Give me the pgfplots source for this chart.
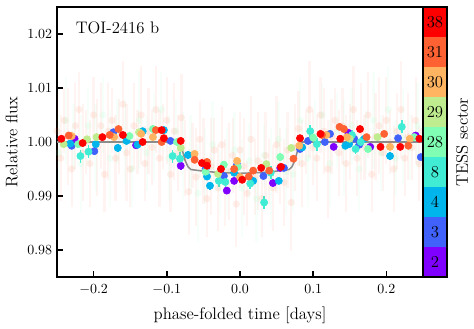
\documentclass[border=0pt]{standalone}
\usepackage{pgfplots}
\pgfplotsset{compat=1.18}

\definecolor{s2}{RGB}{128,0,255}
\definecolor{s3}{RGB}{64,98,250}
\definecolor{s4}{RGB}{0,180,236}
\definecolor{s8}{RGB}{64,236,212}
\definecolor{s28}{RGB}{128,255,180}
\definecolor{s29}{RGB}{191,236,142}
\definecolor{s30}{RGB}{255,180,98}
\definecolor{s31}{RGB}{255,98,50}
\definecolor{s38}{RGB}{255,0,0}

% faint unbinned points (sectors 31 + 28 shown as haze)
\pgfplotstableread{
x y e
-0.250 1.002 0.007
-0.245 0.997 0.008
-0.240 1.004 0.006
-0.235 1.001 0.009
-0.230 0.995 0.007
-0.225 1.003 0.008
-0.220 1.006 0.007
-0.215 0.998 0.009
-0.210 1.000 0.006
-0.205 0.996 0.008
-0.200 1.005 0.007
-0.195 0.999 0.009
-0.190 1.003 0.008
-0.185 0.994 0.007
-0.180 1.002 0.009
-0.175 1.004 0.006
-0.170 0.997 0.008
-0.165 1.001 0.007
-0.160 1.007 0.008
-0.155 0.998 0.009
-0.150 0.995 0.007
-0.145 1.003 0.008
-0.140 1.000 0.006
-0.135 1.005 0.009
-0.130 0.996 0.007
-0.125 1.002 0.008
-0.120 0.999 0.007
-0.115 1.006 0.008
-0.110 0.997 0.009
-0.105 1.001 0.006
-0.100 1.004 0.008
-0.095 0.994 0.007
-0.090 1.002 0.009
-0.085 0.998 0.007
-0.080 1.0045 0.008
-0.075 0.997 0.007
-0.070 0.9908 0.008
-0.065 0.9975 0.006
-0.060 0.9935 0.009
-0.055 1.0005 0.007
-0.050 0.9965 0.008
-0.045 0.9895 0.007
-0.040 0.9955 0.009
-0.035 0.9985 0.006
-0.030 0.9915 0.008
-0.025 0.9995 0.007
-0.020 0.9925 0.008
-0.015 0.9945 0.009
-0.010 0.9975 0.007
-0.005 0.9885 0.008
0.000 0.9985 0.007
0.005 0.9955 0.009
0.010 0.9905 0.006
0.015 1.0005 0.008
0.020 0.9935 0.007
0.025 0.9965 0.009
0.030 0.9895 0.007
0.035 0.9975 0.008
0.040 0.9945 0.006
0.045 0.9915 0.008
0.050 0.9995 0.009
0.055 0.9955 0.007
0.060 0.9925 0.008
0.065 0.9985 0.007
0.070 0.9888 0.009
0.075 0.999 0.008
0.080 1.0025 0.007
0.085 0.996 0.008
0.090 1.000 0.006
0.095 1.006 0.009
0.100 0.999 0.007
0.105 0.997 0.008
0.110 1.005 0.007
0.115 1.002 0.008
0.120 0.995 0.009
0.125 1.001 0.007
0.130 1.004 0.006
0.135 0.998 0.008
0.140 1.003 0.007
0.145 0.996 0.009
0.150 1.000 0.007
0.155 1.006 0.008
0.160 0.997 0.007
0.165 1.002 0.009
0.170 0.999 0.006
0.175 1.005 0.008
0.180 0.994 0.007
0.185 1.001 0.008
0.190 1.003 0.009
0.195 0.998 0.007
0.200 1.004 0.008
0.205 1.000 0.006
0.210 0.995 0.008
0.215 1.002 0.007
0.220 1.006 0.009
0.225 0.997 0.007
0.230 1.001 0.008
0.235 0.999 0.006
0.240 1.004 0.008
0.245 0.996 0.007
0.250 1.002 0.008
}\faintred

\pgfplotstableread{
x y e
-0.2475 0.998 0.007
-0.2375 1.004 0.008
-0.2275 1.001 0.006
-0.2175 0.996 0.009
-0.2075 1.003 0.007
-0.1975 0.999 0.008
-0.1875 1.005 0.007
-0.1775 0.997 0.009
-0.1675 1.002 0.006
-0.1575 1.000 0.008
-0.1475 0.995 0.007
-0.1375 1.004 0.009
-0.1275 0.998 0.007
-0.1175 1.001 0.008
-0.1075 1.006 0.007
-0.0975 0.997 0.008
-0.0875 1.002 0.006
-0.0775 0.9975 0.008
-0.0675 0.998 0.007
-0.0575 0.9905 0.009
-0.0475 0.9955 0.007
-0.0375 0.9995 0.008
-0.0275 0.9925 0.006
-0.0175 0.9945 0.008
-0.0075 0.9985 0.007
0.0025 0.9915 0.009
0.0125 0.9965 0.007
0.0225 0.9895 0.008
0.0325 0.9975 0.006
0.0425 0.9935 0.009
0.0525 1.0005 0.007
0.0625 0.9945 0.008
0.0725 0.9940 0.007
0.0825 1.004 0.008
0.0925 0.997 0.009
0.1025 1.001 0.007
0.1125 1.005 0.006
0.1225 0.996 0.008
0.1325 1.002 0.007
0.1425 0.999 0.009
0.1525 1.003 0.007
0.1625 0.995 0.008
0.1725 1.000 0.006
0.1825 1.004 0.009
0.1925 0.998 0.007
0.2025 1.006 0.008
0.2125 0.997 0.007
0.2225 1.001 0.009
0.2325 0.999 0.006
0.2425 1.003 0.008
}\faintgreen

\pgfplotstableread{
x y
-0.250 1.0000
-0.083 1.0000
-0.079 0.9986
-0.075 0.9966
-0.071 0.9954
-0.067 0.9949
-0.050 0.9946
-0.030 0.99435
0.000 0.9942
0.030 0.99435
0.050 0.9946
0.067 0.9949
0.071 0.9954
0.075 0.9966
0.079 0.9986
0.083 1.0000
0.250 1.0000
}\model

\pgfplotsset{
  sec/.style={only marks, mark=*, mark size=2.6pt, color=#1,
    error bars/.cd, y dir=both, y explicit, error mark=none,
    error bar style={line width=1.2pt}},
  faint/.style={only marks, mark=*, mark size=2.6pt, color=#1,
    mark options={opacity=0.10, draw opacity=0},
    error bars/.cd, y dir=both, y explicit, error mark=none,
    error bar style={line width=1.6pt, opacity=0.07}},
}

\begin{document}
\begin{tikzpicture}
\begin{axis}[
  name=ax, scale only axis, width=262.5pt, height=193.7pt,
  xmin=-0.25, xmax=0.25, ymin=0.975, ymax=1.025,
  xtick={-0.2,-0.1,0,0.1,0.2}, ytick={0.98,0.99,1.00,1.01,1.02},
  xticklabel style={yshift=-1.5pt, /pgf/number format/.cd, fixed, fixed zerofill, precision=1},
  yticklabel style={/pgf/number format/.cd, fixed, fixed zerofill, precision=2},
  tick align=inside, tick pos=left, major tick length=4.5pt,
  every tick/.style={black, line width=1.1pt},
  axis line style={line width=1.4pt},
  xlabel={phase-folded time [days]}, ylabel={Relative flux},
  label style={font=\large},
  xlabel style={yshift=-2.5pt},
  clip=true,
]
\addplot[faint=s31] table[x=x, y=y, y error=e] {\faintred};
\addplot[faint=s28] table[x=x, y=y, y error=e] {\faintgreen};
\addplot[gray!90, line width=1.1pt] table[x=x, y=y] {\model};

\addplot[sec=s2] table[x=x, y=y, y error=e, row sep=\\] {
x y e \\
-0.226 1.0006 0.0006 \\ -0.142 0.9994 0.0006 \\ -0.081 0.9956 0.0007 \\
-0.018 0.9910 0.0007 \\ -0.008 0.9928 0.0006 \\ 0.045 0.9924 0.0006 \\
0.055 0.9952 0.0006 \\ 0.148 1.0017 0.0006 \\ 0.178 0.9991 0.0006 \\
0.240 1.0012 0.0006 \\ 0.128 0.9991 0.0006 \\
};
\addplot[sec=s3] table[x=x, y=y, y error=e, row sep=\\] {
x y e \\
-0.230 0.9993 0.0006 \\ -0.199 0.9983 0.0007 \\ -0.173 1.0018 0.0006 \\
-0.095 1.0002 0.0006 \\ -0.047 0.9950 0.0006 \\ -0.022 0.9937 0.0006 \\
0.032 0.9937 0.0006 \\ 0.060 0.9952 0.0006 \\ 0.082 0.9987 0.0006 \\
0.093 1.0002 0.0006 \\ 0.116 1.0000 0.0006 \\ 0.123 1.0015 0.0006 \\
0.156 1.0006 0.0006 \\ 0.163 0.9995 0.0006 \\ 0.216 1.0007 0.0006 \\
0.247 0.9972 0.0006 \\ -0.004 0.9958 0.0006 \\
};
\addplot[sec=s4] table[x=x, y=y, y error=e, row sep=\\] {
x y e \\
-0.232 0.9997 0.0007 \\ -0.197 0.9996 0.0006 \\ -0.167 0.9989 0.0007 \\
-0.155 1.0002 0.0006 \\ -0.133 1.0020 0.0006 \\ -0.104 1.0022 0.0006 \\
-0.071 0.9976 0.0007 \\ -0.045 0.9936 0.0006 \\ -0.041 0.9919 0.0007 \\
-0.008 0.9943 0.0006 \\ 0.018 0.9928 0.0006 \\ 0.053 0.9928 0.0006 \\
0.085 0.9990 0.0006 \\ 0.144 0.9993 0.0006 \\ 0.149 0.9996 0.0006 \\
0.170 1.0006 0.0006 \\ 0.205 0.9974 0.0007 \\ -0.140 0.9995 0.0006 \\
};
\addplot[sec=s8] table[x=x, y=y, y error=e, row sep=\\] {
x y e \\
-0.218 0.9974 0.0012 \\ -0.207 0.9982 0.0012 \\ -0.092 0.9974 0.0012 \\
-0.082 0.9969 0.0012 \\ -0.029 0.9928 0.0012 \\ -0.020 0.9926 0.0012 \\
0.014 0.9923 0.0010 \\ 0.033 0.9888 0.0012 \\ 0.042 0.9943 0.0012 \\
0.096 1.0020 0.0012 \\ 0.105 0.9996 0.0012 \\ 0.153 1.0013 0.0010 \\
0.158 0.9987 0.0010 \\ 0.221 1.0028 0.0012 \\ 0.165 1.0000 0.0010 \\
};
\addplot[sec=s28] table[x=x, y=y, y error=e, row sep=\\] {
x y e \\
-0.221 0.9996 0.0007 \\ -0.151 1.0011 0.0007 \\ -0.119 1.0024 0.0007 \\
-0.086 1.0000 0.0007 \\ -0.047 0.9945 0.0007 \\ -0.022 0.9958 0.0007 \\
0.055 0.9972 0.0007 \\ 0.175 0.9987 0.0007 \\ 0.238 1.0009 0.0007 \\
-0.003 0.9954 0.0007 \\ 0.100 1.0008 0.0007 \\
};
\addplot[sec=s29] table[x=x, y=y, y error=e, row sep=\\] {
x y e \\
-0.241 0.9996 0.0006 \\ -0.196 1.0009 0.0006 \\ -0.081 0.9989 0.0006 \\
-0.030 0.9941 0.0006 \\ 0.036 0.9959 0.0006 \\ 0.188 1.0009 0.0006 \\
-0.138 1.0018 0.0006 \\ 0.070 0.9989 0.0006 \\ -0.209 1.0005 0.0006 \\
0.150 1.0006 0.0006 \\
};
\addplot[sec=s30] table[x=x, y=y, y error=e, row sep=\\] {
x y e \\
-0.230 1.0011 0.0006 \\ -0.172 1.0009 0.0006 \\ -0.119 1.0009 0.0006 \\
-0.062 0.9978 0.0006 \\ -0.004 0.9965 0.0006 \\ 0.081 0.9993 0.0006 \\
0.146 1.0009 0.0006 \\ 0.205 0.9991 0.0006 \\ 0.232 1.0006 0.0006 \\
0.118 1.0013 0.0006 \\ -0.135 1.0015 0.0006 \\ 0.000 0.9935 0.0006 \\
};
\addplot[sec=s31] table[x=x, y=y, y error=e, row sep=\\] {
x y e \\
-0.234 1.0012 0.0006 \\ -0.166 1.0024 0.0006 \\ -0.178 1.0013 0.0006 \\
-0.115 1.0022 0.0006 \\ -0.107 1.0000 0.0006 \\ -0.045 0.9963 0.0006 \\
-0.062 0.9967 0.0006 \\ 0.012 0.9936 0.0006 \\ 0.018 0.9947 0.0006 \\
0.073 0.9969 0.0006 \\ 0.136 1.0028 0.0006 \\ 0.142 1.0024 0.0006 \\
0.173 1.0009 0.0006 \\ 0.197 1.0015 0.0006 \\ 0.230 0.9993 0.0006 \\
0.112 1.0013 0.0006 \\ -0.008 0.9950 0.0006 \\ 0.040 0.9947 0.0006 \\
};
\addplot[sec=s38] table[x=x, y=y, y error=e, row sep=\\] {
x y e \\
-0.244 1.0006 0.0006 \\ -0.215 0.9998 0.0006 \\ -0.188 1.0009 0.0006 \\
-0.160 1.0013 0.0006 \\ -0.133 1.0000 0.0006 \\ -0.107 1.0022 0.0006 \\
-0.104 1.0007 0.0006 \\ -0.081 1.0002 0.0006 \\ -0.052 0.9961 0.0006 \\
-0.045 0.9956 0.0006 \\ -0.026 0.9950 0.0006 \\ 0.003 0.9930 0.0006 \\
0.029 0.9952 0.0006 \\ 0.056 0.9954 0.0006 \\ 0.082 1.0007 0.0006 \\
0.110 1.0015 0.0006 \\ 0.137 1.0006 0.0006 \\ 0.164 1.0024 0.0006 \\
0.192 0.9991 0.0006 \\ 0.219 0.9991 0.0006 \\ 0.245 1.0006 0.0006 \\
};
\node[anchor=west, font=\large] at (rel axis cs:0.038,0.922) {TOI-2416 b};
\end{axis}

\begin{axis}[
  name=cb, at={(ax.south east)}, anchor=south west,
  scale only axis, width=17.2pt, height=193.7pt,
  xmin=0, xmax=1, ymin=0, ymax=9,
  xtick=\empty,
  ytick={0.5,1.5,2.5,3.5,4.5,5.5,6.5,7.5,8.5},
  yticklabels={2,3,4,8,28,29,30,31,38},
  ytick style={draw=none},
  yticklabel style={font=\large, anchor=center, xshift=8.6pt},
  axis line style={line width=1.4pt}, axis on top,
  ybar stacked, bar width=1,
  ylabel={TESS sector},
  ylabel style={font=\large, at={(axis description cs:1,0.5)}, anchor=north, yshift=-3pt},
]
\addplot[fill=s2, draw=none] coordinates {(0.5,1)};
\addplot[fill=s3, draw=none] coordinates {(0.5,1)};
\addplot[fill=s4, draw=none] coordinates {(0.5,1)};
\addplot[fill=s8, draw=none] coordinates {(0.5,1)};
\addplot[fill=s28, draw=none] coordinates {(0.5,1)};
\addplot[fill=s29, draw=none] coordinates {(0.5,1)};
\addplot[fill=s30, draw=none] coordinates {(0.5,1)};
\addplot[fill=s31, draw=none] coordinates {(0.5,1)};
\addplot[fill=s38, draw=none] coordinates {(0.5,1)};
\end{axis}
\pgfresetboundingbox
\path[use as bounding box] (ax.south west) ++(-40.9pt,-36.6pt) rectangle ++(340pt,235.3pt);
\end{tikzpicture}
\end{document}
